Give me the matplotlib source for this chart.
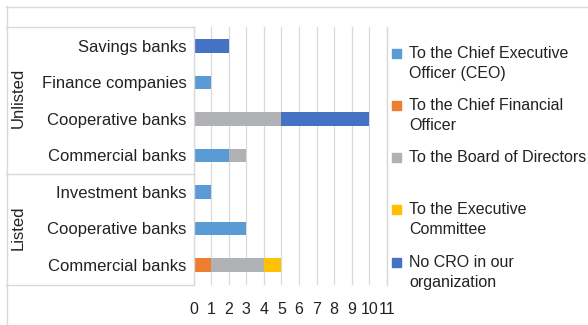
import matplotlib
matplotlib.use("Agg")
import matplotlib.pyplot as plt
import numpy as np
from matplotlib.lines import Line2D
from matplotlib.patches import Rectangle

plt.rcParams["font.family"] = ["Liberation Sans", "DejaVu Sans"]

# Rows top to bottom
categories = [
    "Savings banks", "Finance companies", "Cooperative banks", "Commercial banks",
    "Investment banks", "Cooperative banks", "Commercial banks",
]
groups = ["Unlisted", "Listed"]
group_sizes = [4, 3]

series_labels = [
    "To the Chief Executive\nOfficer (CEO)",
    "To the Chief Financial\nOfficer",
    "To the Board of Directors",
    "To the Executive\nCommittee",
    "No CRO in our\norganization",
]
ceo = [0, 1, 0, 2, 1, 3, 0]
cfo = [0, 0, 0, 0, 0, 0, 1]
board = [0, 0, 5, 1, 0, 0, 3]
exec_comm = [0, 0, 0, 0, 0, 0, 1]
no_cro = [2, 0, 5, 0, 0, 0, 0]
series = [ceo, cfo, board, exec_comm, no_cro]
colors = ["#5B9BD5", "#ED7D31", "#B0B1B4", "#FFC000", "#4472C4"]

W, H = 588, 325
fig = plt.figure(figsize=(W / 100, H / 100), dpi=100)

def fx(px):
    return px / W

def fy(py):
    return 1 - py / H

ax = fig.add_axes([fx(193.5), fy(285), fx(387) - fx(193.5), fy(27) - fy(285)])

y = np.arange(len(categories))
left = np.zeros(len(categories))
for vals, col in zip(series, colors):
    vals = np.array(vals, dtype=float)
    ax.barh(y, vals, left=left, height=0.38, color=col, zorder=3)
    left += vals

ax.set_xlim(0, 11)
ax.set_ylim(6.55, -0.52)
ax.set_xticks(range(12))
ax.set_xticklabels([str(i) for i in range(12)], fontsize=11.5, color="#222222")
ax.set_yticks(y)
ax.set_yticklabels(categories, fontsize=12, color="#222222")
ax.tick_params(axis="both", length=0)
ax.tick_params(axis="x", pad=12)
ax.tick_params(axis="y", pad=5)
ax.grid(axis="x", color="#D9D9D9", lw=0.9, zorder=0)
for s in ax.spines.values():
    s.set_visible(False)

# frame and category table lines
lc = "#D9D9D9"
def hline(x0, x1, py):
    fig.add_artist(Line2D([fx(x0), fx(x1)], [fy(py), fy(py)], color=lc, lw=1.0))

def vline(px, y0, y1):
    fig.add_artist(Line2D([fx(px), fx(px)], [fy(y0), fy(y1)], color=lc, lw=1.0))

hline(6, W, 6.5)
vline(6.5, 6, H)
hline(6, 193.5, 27)
hline(6, 193.5, 174)
hline(6, 193.5, 285)
vline(193.5, 27, 285)
vline(387, 27, 285)

# group labels
fig.text(fx(18), fy(98), groups[0], rotation=90, ha="center", va="center",
         fontsize=12, color="#222222")
fig.text(fx(18), fy(228), groups[1], rotation=90, ha="center", va="center",
         fontsize=12, color="#222222")

# legend
for i, (lab, col) in enumerate(zip(series_labels, colors)):
    py = 53 + i * 52.3
    fig.add_artist(Rectangle((fx(391.5), fy(py + 4.5)), fx(9), 9 / H,
                             color=col, transform=fig.transFigure))
    for j, line in enumerate(lab.split("\n")):
        fig.text(fx(409), fy(py + j * 20), line, ha="left", va="center",
                 fontsize=11.5, color="#222222")

fig.savefig("out.png", dpi=100)
